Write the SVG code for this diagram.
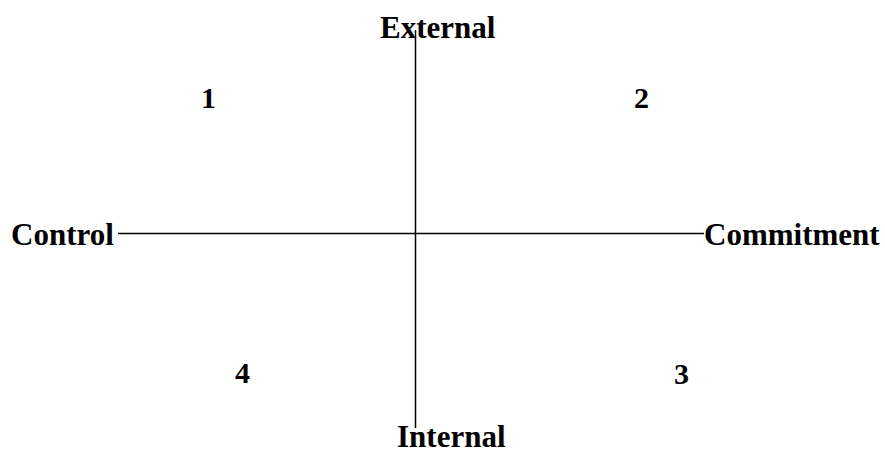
<svg xmlns="http://www.w3.org/2000/svg" width="885" height="454" viewBox="0 0 885 454">
<style>
.t{font-family:"Liberation Serif","Times New Roman",serif;font-weight:bold;font-size:31px;fill:#000}
.n{font-family:"Liberation Serif","Times New Roman",serif;font-weight:bold;font-size:30px;fill:#000}
.ax{stroke:#000;stroke-width:1.5;fill:none}
</style>
<rect width="885" height="454" fill="#fff"/>
<g id="connectors">
<line class="ax" x1="415.5" y1="30" x2="415.5" y2="428"/>
<line class="ax" x1="118" y1="233.5" x2="704" y2="233.5"/>
</g>
<g id="external"><text class="t" x="380" y="38">External</text></g>
<g id="internal"><text class="t" x="397" y="447">Internal</text></g>
<g id="control"><text class="t" x="11" y="245">Control</text></g>
<g id="commitment"><text class="t" x="704" y="245">Commitment</text></g>
<g id="q1"><text class="n" x="201" y="108">1</text></g>
<g id="q2"><text class="n" x="634" y="108">2</text></g>
<g id="q3"><text class="n" x="674" y="384">3</text></g>
<g id="q4"><text class="n" x="235" y="383">4</text></g>
</svg>
